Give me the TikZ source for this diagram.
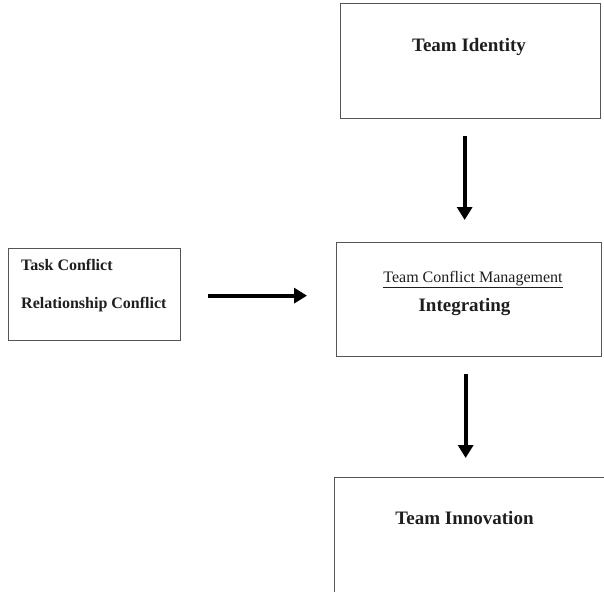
\documentclass[tikz,border=0pt]{standalone}
\usepackage{fontspec}
\setmainfont{Liberation Serif}
\usepackage{tikz}
\usetikzlibrary{arrows.meta}

\begin{document}
\begin{tikzpicture}[x=1pt,y=-1pt]
	\tikzstyle{every node}=[scale=1.0000]
	
	\definecolor{a555555b}{RGB}{85,85,85}
	\definecolor{a1e1e1eb}{RGB}{30,30,30}
	\tikzstyle{box}=[draw=a555555b ,line width=1.3pt ,inner sep=0pt ,anchor=north west]
	\tikzstyle{bigtext}=[text=a1e1e1eb ,inner sep=0pt ,font=\fontsize{19}{23}\selectfont\bfseries]
	\tikzstyle{smalltext}=[text=a1e1e1eb ,inner sep=0pt ,font=\fontsize{16}{19}\selectfont]
	\tikzstyle{arrow}=[draw=black ,line width=4pt ,-{Triangle[length=13pt,width=15pt]}]
	%%Created with tikzpy
	
	\useasboundingbox (0.0000,0.0000) rectangle (604.0000,591.0000);
	\clip (0.0000,0.0000) rectangle (604.0000,591.0000);
	
	\node [box ,minimum width=260pt ,minimum height=115pt]  (ident) at (340.0000,3.0000) {};
	\node [bigtext ,anchor=base]  (identtxt) at (469.0000,52.0000) {Team Identity};
	\node [box ,minimum width=172pt ,minimum height=92pt]  (conflict) at (8.0000,248.0000) {};
	\node [smalltext ,font=\fontsize{16}{19}\selectfont\bfseries ,anchor=base west]  (tasktxt) at (21.0000,270.0000) {Task Conflict};
	\node [smalltext ,font=\fontsize{16}{19}\selectfont\bfseries ,anchor=base west]  (reltxt) at (21.0000,308.0000) {Relationship Conflict};
	\node [box ,minimum width=265pt ,minimum height=114pt]  (manage) at (336.0000,242.0000) {};
	\node [smalltext ,anchor=base]  (managetxt) at (473.0000,282.0000) {\underline{Team Conflict Management}};
	\node [bigtext ,anchor=base]  (integtxt) at (464.5000,311.0000) {Integrating};
	\node [box ,minimum width=300pt ,minimum height=150pt]  (innov) at (334.0000,477.0000) {};
	\node [bigtext ,anchor=base]  (innovtxt) at (464.5000,524.0000) {Team Innovation};
	
	\draw [arrow ,shorten <=17pt ,shorten >=22pt]  ([xshift=-6pt]ident.south) -- ([xshift=-4.5pt]manage.north);
	\draw [arrow ,shorten <=17pt ,shorten >=19pt]  ([xshift=-3.5pt]manage.south) -- ([xshift=-19pt]innov.north);
	\draw [arrow ,shorten <=27pt ,shorten >=29pt]  ([yshift=-1pt]conflict.east) -- ([yshift=4pt]manage.west);

\end{tikzpicture}
\end{document}
